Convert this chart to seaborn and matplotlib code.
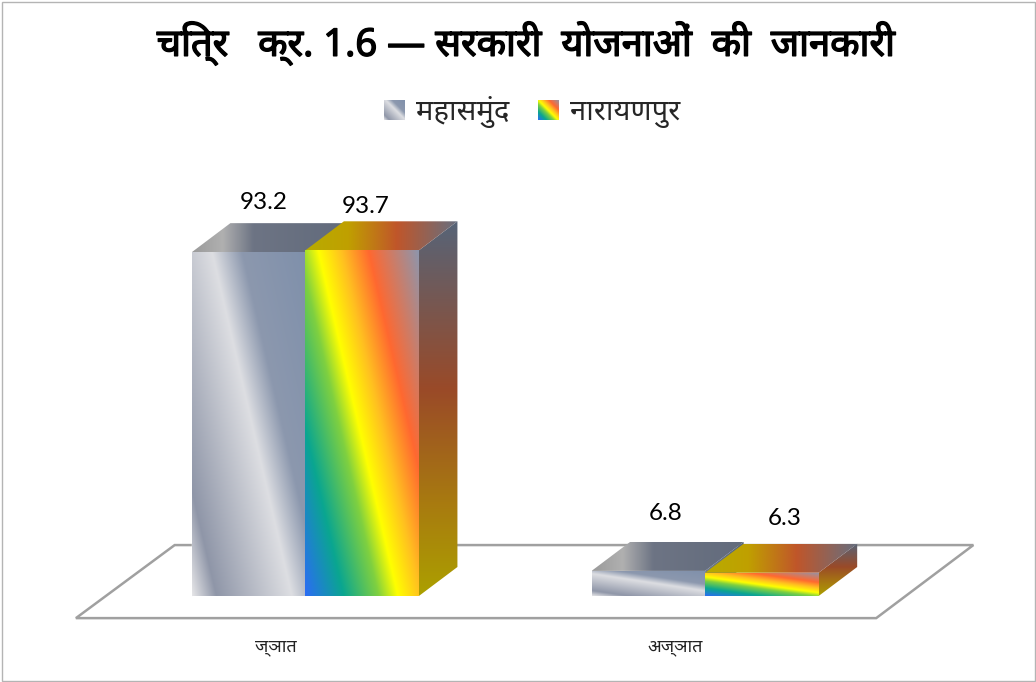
import matplotlib
matplotlib.use("Agg")
import matplotlib.patheffects as pe
import matplotlib.pyplot as plt
import numpy as np
import pandas as pd
import seaborn as sns
from matplotlib.colors import to_rgb
from matplotlib.patches import Patch, Polygon, Rectangle
from matplotlib.transforms import ScaledTranslation

TITLE = "चित्र   क्र. 1.6 — सरकारी  योजनाओं  की  जानकारी"
CATEGORIES = ["ज्ञात", "अज्ञात"]
DISTRICTS = ["महासमुंद", "नारायणपुर"]
MAHASAMUND = [93.2, 6.8]
NARAYANPUR = [93.7, 6.3]

HI_FONT = "Noto Sans"
NUM_FONT = "Lato"

# label nudges from the top of each front face, in pixels
LABEL_NUDGE = [[(15, 50), (17, 57)], [(4, 44), (23, 54)]]

GREY_FRONT = [(0, "#e6e6e8"), (.125, "#8f96a8"), (.516, "#dddee2"), (.67, "#8c98ae"), (1, "#7f90ab")]
RAIN_FRONT = [(0, "#2b6cf5"), (.2, "#0aa690"), (.38, "#7fd040"), (.48, "#ffff00"),
              (.6, "#ffc020"), (.74, "#ff6830"), (1, "#8d96ad")]
GREY_TOP = [(0, "#9a9a9a"), (.2, "#b0b0b0"), (.4, "#6d7484"), (1, "#626b7c")]
RAIN_TOP = [(0, "#b8ac00"), (.28, "#c0a000"), (.6, "#c0562a"), (1, "#666f80")]
GREY_SIDE = [(0, "#566478"), (1, "#7f8899")]
RAIN_SIDE = [(0, "#566478"), (.45, "#9a4a28"), (.75, "#a87a10"), (1, "#aca000")]


def stops_to_rgb(t, stops):
    pos = [s[0] for s in stops]
    rgb = np.array([to_rgb(s[1]) for s in stops])
    return np.dstack([np.interp(t, pos, rgb[:, i]) for i in range(3)])


def paint(ax, pts, stops, k=0.0, vertical=False, zorder=3):
    """Fill polygon pts with a slanted gradient, clipped to the polygon."""
    pts = np.array(pts)
    x0, y0 = pts.min(axis=0)
    x1, y1 = pts.max(axis=0)
    u, v = np.meshgrid(np.linspace(0, 1, 300), np.linspace(0, 1, 300))
    t = v if vertical else (u - k * v + k) / (1 + k)
    im = ax.imshow(stops_to_rgb(t, stops), extent=(x0, x1, y0, y1), origin="upper",
                   aspect="auto", interpolation="bilinear", zorder=zorder)
    clip = Polygon(pts, closed=True, transform=ax.transData, fc="none", ec="none")
    ax.add_patch(clip)
    im.set_clip_path(clip)


sns.set_theme(style="white")

fig = plt.figure(figsize=(10.36, 6.82), dpi=100)
W, H = 1036, 682
ax = fig.add_axes([105.5 / W, (H - 625.5) / H, 799.5 / W, 485.5 / H])
ax.set_facecolor("none")

df = pd.DataFrame({
    "status": CATEGORIES * 2,
    "pct": MAHASAMUND + NARAYANPUR,
    "district": [DISTRICTS[0]] * 2 + [DISTRICTS[1]] * 2,
})
sns.barplot(data=df, x="status", y="pct", hue="district", hue_order=DISTRICTS,
            palette=["#8f96a8", "#ffc020"], width=0.568, gap=0, legend=False, ax=ax, zorder=2)

ax.set_xlim(-0.5, 1.5)
ax.set_ylim(-8, 123.6)
dx, dy = 38.5 / 399.5, 29 / 3.69

# floor of the 3D box
floor = [(-0.574, -6), (1.428, -6), (1.671, 13.8), (-0.327, 13.8)]
ax.add_patch(Polygon(floor, closed=True, fc="white", ec="#a0a0a0", lw=1.8, zorder=1, clip_on=False))

fronts = [GREY_FRONT, RAIN_FRONT]
tops = [GREY_TOP, RAIN_TOP]
sides = [GREY_SIDE, RAIN_SIDE]
z = 3
for c, container in enumerate(ax.containers):
    for b, bar in enumerate(container):
        x0, w, h = bar.get_x(), bar.get_width(), bar.get_height()
        x1 = x0 + w
        k = 0.7 if h > 30 else 1.5
        paint(ax, [(x1, 0), (x1 + dx, dy), (x1 + dx, h + dy), (x1, h)], sides[c], vertical=True, zorder=z)
        paint(ax, [(x0, h), (x1, h), (x1 + dx, h + dy), (x0 + dx, h + dy)], tops[c], zorder=z)
        paint(ax, [(x0, 0), (x1, 0), (x1, h), (x0, h)], fronts[c], k=k, zorder=z)
        z += 1
        nx, ny = LABEL_NUDGE[c][b]
        ax.annotate(f"{h:.1f}", xy=(x0 + w / 2, h), xytext=(nx, ny), textcoords="offset pixels",
                    ha="center", va="center", fontsize=17.5, family=NUM_FONT, color="black", zorder=20)

ax.set_xlabel("")
ax.set_ylabel("")
ax.set_yticks([])
ax.tick_params(axis="x", length=0, pad=9)
# tick labels sit under the front edge of the floor, left of the bars
shift = ScaledTranslation(-30 / 100, 0, fig.dpi_scale_trans)
for lab in ax.get_xticklabels():
    lab.set_family(HI_FONT)
    lab.set_fontsize(13)
    lab.set_color("#222222")
    lab.set_transform(lab.get_transform() + shift)
sns.despine(ax=ax, left=True, bottom=True)

title = fig.text(526 / W, 1 - 43 / H, TITLE, ha="center", va="center", fontsize=27.5,
                 family=HI_FONT, color="black")
title.set_path_effects([pe.withStroke(linewidth=1.0, foreground="black")])

handles = [Patch(fc="#c0c4cc", label=DISTRICTS[0]), Patch(fc="#c0c040", label=DISTRICTS[1])]
leg = fig.legend(handles=handles, loc="center", bbox_to_anchor=(532 / W, 1 - 112 / H), ncol=2,
                 frameon=False, prop={"family": HI_FONT, "size": 21}, handlelength=0.7,
                 handleheight=0.7, handletextpad=0.4, columnspacing=1.0)

# legend swatches get the same gradients, drawn over the handles
fig.canvas.draw()
for patch, stops in zip(leg.get_patches(), fronts):
    bb = patch.get_window_extent()
    sw = fig.add_axes([bb.x0 / W, bb.y0 / H, bb.width / W, bb.height / H], zorder=10)
    u, v = np.meshgrid(np.linspace(0, 1, 60), np.linspace(0, 1, 60))
    sw.imshow(stops_to_rgb((u - v + 1) / 2, stops), aspect="auto", origin="upper")
    sw.axis("off")

fig.add_artist(Rectangle((1.5 / W, 1.5 / H), (W - 3) / W, (H - 3) / H, transform=fig.transFigure,
                         fc="none", ec="#b4b4b4", lw=1))

fig.savefig("out.png", dpi=100)
